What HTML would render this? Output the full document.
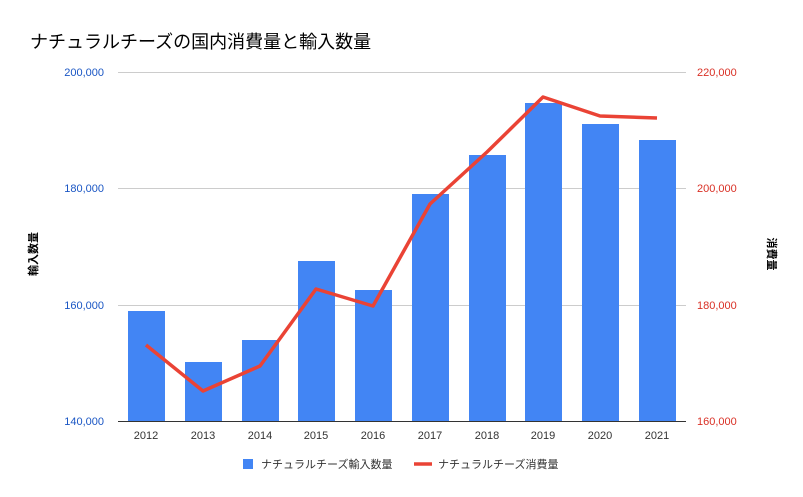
<!DOCTYPE html>
<html><head><meta charset="utf-8"><style>
body{margin:0;background:#fff;}
svg{display:block;font-family:"Liberation Sans","Noto Sans CJK JP",sans-serif;}
</style></head><body>
<svg width="803" height="497" viewBox="0 0 803 497">
<rect width="803" height="497" fill="#fff"/>
<text x="30" y="48" font-size="18" fill="#000">ナチュラルチーズの国内消費量と輸入数量</text>
<g stroke="#cccccc" stroke-width="1">
<line x1="118" y1="72.5" x2="686" y2="72.5"/>
<line x1="118" y1="188.5" x2="686" y2="188.5"/>
<line x1="118" y1="305.5" x2="686" y2="305.5"/>
</g>
<g fill="#4285f4">
<rect x="128" y="311" width="37" height="110"/>
<rect x="185" y="362" width="37" height="59"/>
<rect x="242" y="340" width="37" height="81"/>
<rect x="298" y="261" width="37" height="160"/>
<rect x="355" y="290" width="37" height="131"/>
<rect x="412" y="194" width="37" height="227"/>
<rect x="469" y="155" width="37" height="266"/>
<rect x="525" y="103" width="37" height="318"/>
<rect x="582" y="124" width="37" height="297"/>
<rect x="639" y="140" width="37" height="281"/>
</g>
<line x1="118" y1="421.5" x2="686" y2="421.5" stroke="#333" stroke-width="1"/>
<polyline fill="none" stroke="#ea4335" stroke-width="3.5" stroke-linejoin="round" points="146,345 203,391 260,366 316,289 373,306 430,204 487,152 543,97 600,116 657,118"/>
<g font-size="11" fill="#1a56c4" text-anchor="end">
<text x="104" y="76">200,000</text>
<text x="104" y="192">180,000</text>
<text x="104" y="309">160,000</text>
<text x="104" y="425">140,000</text>
</g>
<g font-size="11" fill="#d93025" text-anchor="start">
<text x="697" y="76">220,000</text>
<text x="697" y="192">200,000</text>
<text x="697" y="309">180,000</text>
<text x="697" y="425">160,000</text>
</g>
<g font-size="11" fill="#333" text-anchor="middle">
<text x="146" y="439">2012</text><text x="203" y="439">2013</text><text x="260" y="439">2014</text>
<text x="316" y="439">2015</text><text x="373" y="439">2016</text><text x="430" y="439">2017</text>
<text x="487" y="439">2018</text><text x="543" y="439">2019</text><text x="600" y="439">2020</text>
<text x="657" y="439">2021</text>
</g>
<text transform="translate(37,254) rotate(-90)" font-size="11" font-weight="bold" text-anchor="middle" fill="#000">輸入数量</text>
<text transform="translate(768,254) rotate(90)" font-size="11" font-weight="bold" text-anchor="middle" fill="#000">消費量</text>
<rect x="243" y="459" width="10" height="10" fill="#4285f4"/>
<text x="261" y="468" font-size="11" fill="#333">ナチュラルチーズ輸入数量</text>
<line x1="414" y1="464" x2="432" y2="464" stroke="#ea4335" stroke-width="3.5"/>
<text x="438" y="468" font-size="11" fill="#333">ナチュラルチーズ消費量</text>
</svg>
</body></html>
